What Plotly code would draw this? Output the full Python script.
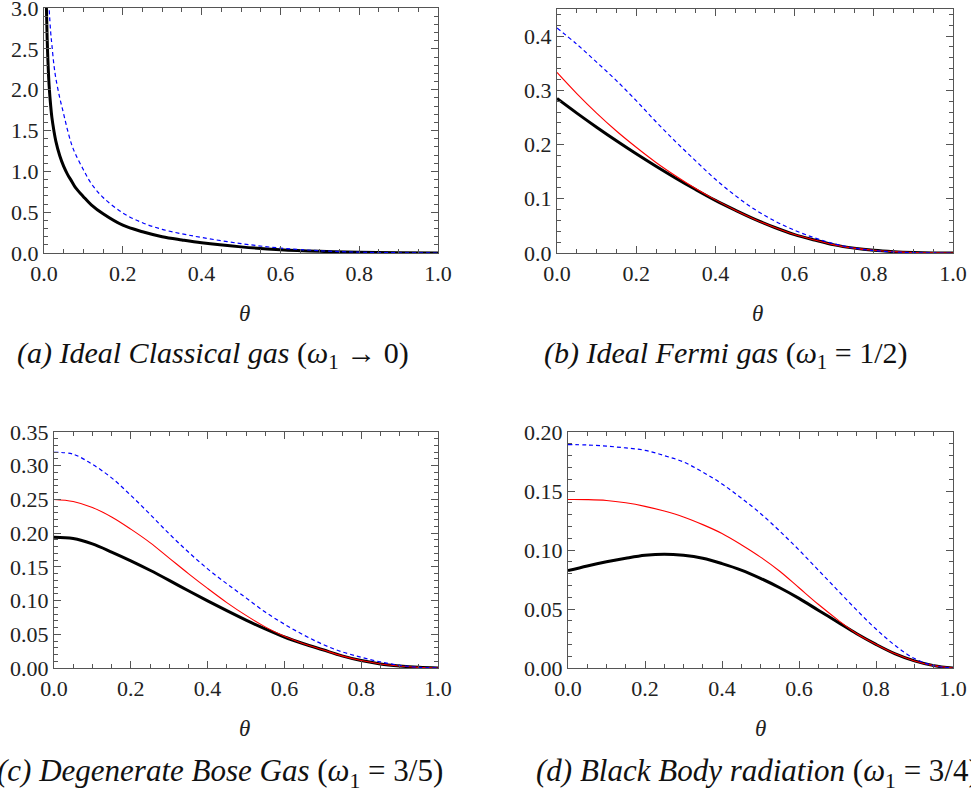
import plotly.graph_objects as go

# ---------------- data ----------------
# Panel (a) Ideal classical gas
theta_a = [0.004, 0.006, 0.008, 0.01, 0.013, 0.017, 0.02, 0.025, 0.03, 0.04, 0.05, 0.06,
           0.07, 0.08, 0.1, 0.12, 0.15, 0.2, 0.25, 0.3, 0.35, 0.4, 0.5, 0.6, 0.7, 0.8, 0.9, 1.0]
black_a = [3.7, 3.03, 2.63, 2.35, 2.05, 1.80, 1.66, 1.50, 1.37, 1.19, 1.06, 0.96,
           0.88, 0.80, 0.69, 0.59, 0.48, 0.34, 0.26, 0.20, 0.16, 0.125, 0.075, 0.040, 0.020, 0.008, 0.002, 0.0]
theta_a_blue = [0.010, 0.013, 0.017, 0.02, 0.025, 0.03, 0.04, 0.05, 0.06, 0.07, 0.08, 0.1, 0.12,
                0.15, 0.2, 0.25, 0.3, 0.35, 0.4, 0.5, 0.6, 0.7, 0.8, 0.9, 1.0]
blue_a = [3.4, 3.0, 2.7, 2.55, 2.31, 2.14, 1.90, 1.70, 1.50, 1.33, 1.21, 1.02, 0.85,
          0.68, 0.49, 0.37, 0.29, 0.235, 0.19, 0.115, 0.06, 0.028, 0.010, 0.003, 0.0]

# common theta grid for panels (b)-(d)
theta = [0.0, 0.05, 0.1, 0.15, 0.2, 0.25, 0.3, 0.35, 0.4, 0.45, 0.5,
         0.55, 0.6, 0.65, 0.7, 0.75, 0.8, 0.85, 0.9, 0.95, 1.0]

# Panel (b) Ideal Fermi gas
black_b = [0.285, 0.258, 0.232, 0.207, 0.183, 0.160, 0.138, 0.117, 0.097, 0.079, 0.062,
           0.047, 0.034, 0.024, 0.015, 0.009, 0.005, 0.0025, 0.001, 0.0002, 0.0]
red_b = [0.333, 0.294, 0.258, 0.225, 0.195, 0.167, 0.142, 0.119, 0.098, 0.079, 0.062,
         0.047, 0.034, 0.024, 0.015, 0.009, 0.005, 0.0025, 0.001, 0.0002, 0.0]
blue_b = [0.415, 0.385, 0.352, 0.318, 0.281, 0.242, 0.205, 0.170, 0.136, 0.106, 0.080,
          0.059, 0.042, 0.028, 0.017, 0.009, 0.0045, 0.002, 0.0007, 0.0001, 0.0]

# Panel (c) Degenerate Bose gas
black_c = [0.194, 0.192, 0.184, 0.172, 0.159, 0.145, 0.130, 0.1145, 0.0995, 0.085, 0.071,
           0.058, 0.046, 0.036, 0.027, 0.018, 0.011, 0.006, 0.003, 0.001, 0.0]
red_c = [0.250, 0.247, 0.238, 0.224, 0.206, 0.186, 0.163, 0.140, 0.118, 0.097, 0.078,
         0.061, 0.047, 0.036, 0.027, 0.018, 0.011, 0.006, 0.003, 0.001, 0.0]
blue_c = [0.320, 0.317, 0.302, 0.282, 0.256, 0.228, 0.199, 0.172, 0.147, 0.125, 0.104,
          0.083, 0.065, 0.049, 0.035, 0.024, 0.016, 0.009, 0.004, 0.001, 0.0]

# Panel (d) Black body radiation
black_d = [0.0825, 0.0865, 0.090, 0.093, 0.0955, 0.0965, 0.0955, 0.093, 0.0885, 0.083, 0.076,
           0.068, 0.059, 0.049, 0.039, 0.029, 0.020, 0.012, 0.006, 0.002, 0.0]
red_d = [0.1428, 0.1427, 0.142, 0.140, 0.137, 0.133, 0.128, 0.1215, 0.114, 0.1045, 0.094,
         0.082, 0.068, 0.054, 0.041, 0.029, 0.020, 0.012, 0.006, 0.002, 0.0]
blue_d = [0.1893, 0.1890, 0.188, 0.1865, 0.1845, 0.180, 0.1746, 0.166, 0.156, 0.144, 0.131,
          0.116, 0.100, 0.083, 0.066, 0.049, 0.033, 0.019, 0.008, 0.002, 0.0]

x_ticks = [0.0, 0.2, 0.4, 0.6, 0.8, 1.0]
captions = [
    "<i>(a) Ideal Classical gas</i> (<i>ω</i><sub>1</sub> → 0)",
    "<i>(b) Ideal Fermi gas</i> (<i>ω</i><sub>1</sub> = 1/2)",
    "<i>(c) Degenerate Bose Gas</i> (<i>ω</i><sub>1</sub> = 3/5)",
    "<i>(d) Black Body radiation</i> (<i>ω</i><sub>1</sub> = 3/4)",
]

# ---------------- figure ----------------
W, H = 971, 796
fig = go.Figure()
SERIF = "Times New Roman, Liberation Serif, serif"

def px_x(v):
    return v / W

def px_y(v):
    return 1 - v / H

panels = [
    # (axis suffix, x0, x1, ytop, ybottom, yrange, ydtick, yminor, yfmt)
    ("", 44, 438, 8, 253, [0, 3.0], 0.5, 0.1, ".1f"),
    ("2", 557, 953, 9, 253, [0, 0.45], 0.1, 0.02, ".1f"),
    ("3", 54, 438, 432, 668, [0, 0.35], 0.05, 0.01, ".2f"),
    ("4", 568, 953, 432, 668, [0, 0.20], 0.05, 0.01, ".2f"),
]

series = [
    [(theta_a, black_a, "black"), (theta_a_blue, blue_a, "blue")],
    [(theta, black_b, "black"), (theta, red_b, "red"), (theta, blue_b, "blue")],
    [(theta, black_c, "black"), (theta, red_c, "red"), (theta, blue_c, "blue")],
    [(theta, black_d, "black"), (theta, red_d, "red"), (theta, blue_d, "blue")],
]

styles = {
    "black": dict(color="black", width=3),
    "red": dict(color="#ff0000", width=1.1),
    "blue": dict(color="#0000ff", width=1.2, dash="4px,3px"),
}

tickfont = dict(family=SERIF, size=22, color="#222222")
frame_col = "#555555"

for i, (name, x0, x1, yt, yb, yr, ydt, ymin, yfmt) in enumerate(panels):
    for xs, ys, kind in series[i]:
        st = styles[kind]
        fig.add_trace(go.Scatter(
            x=xs, y=ys, mode="lines",
            line=dict(shape="spline", smoothing=1.0, **st),
            xaxis="x" + name, yaxis="y" + name, showlegend=False, hoverinfo="skip",
        ))
    common = dict(showline=True, linecolor=frame_col, linewidth=1.2, mirror="allticks",
                  ticks="inside", ticklen=7, tickwidth=1, tickcolor=frame_col,
                  showgrid=False, zeroline=False, tickfont=tickfont, automargin=False,
                  ticklabeloverflow="allow")
    xa = dict(domain=[px_x(x0), px_x(x1)], range=[0, 1], tickvals=x_ticks,
              tickformat=".1f", anchor="y" + name,
              minor=dict(ticks="inside", dtick=0.05, tick0=0, ticklen=4,
                         tickcolor=frame_col, showgrid=False),
              **common)
    ya = dict(domain=[px_y(yb), px_y(yt)], range=yr, dtick=ydt, tick0=0,
              tickformat=yfmt, anchor="x" + name,
              minor=dict(ticks="inside", dtick=ymin, tick0=0, ticklen=4,
                         tickcolor=frame_col, showgrid=False),
              **common)
    fig.layout["xaxis" + name] = xa
    fig.layout["yaxis" + name] = ya

annotations = []
theta_pos = [(245, 313), (757, 313), (245, 728), (760, 728)]
for (tx, ty) in theta_pos:
    annotations.append(dict(x=px_x(tx), y=px_y(ty), xref="paper", yref="paper",
                            text="<i>θ</i>", showarrow=False,
                            font=dict(family=SERIF, size=23, color="#222222"),
                            xanchor="center", yanchor="middle"))

cap_pos = [(213, 355, 30), (726, 355, 30), (220, 773, 31), (757, 773, 31)]
for cap, (cx, cy, fs) in zip(captions, cap_pos):
    annotations.append(dict(x=px_x(cx), y=px_y(cy), xref="paper", yref="paper",
                            text=cap, showarrow=False,
                            font=dict(family=SERIF, size=fs, color="#111111"),
                            xanchor="center", yanchor="middle"))

fig.update_layout(
    width=W, height=H, margin=dict(l=0, r=0, t=0, b=0),
    paper_bgcolor="white", plot_bgcolor="white",
    annotations=annotations,
)

fig.write_html("out.html")
